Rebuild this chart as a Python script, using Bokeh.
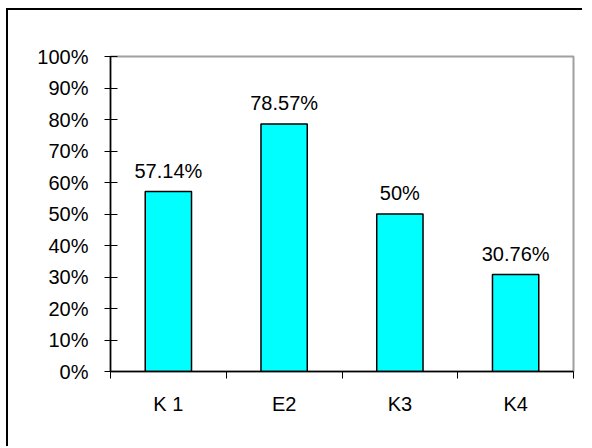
from bokeh.plotting import figure
from bokeh.models import ColumnDataSource, FixedTicker, NumeralTickFormatter, Range1d
from bokeh.core.properties import value
from bokeh.embed import file_html
from bokeh.resources import INLINE

categories = ["K 1", "E2", "K3", "K4"]
shares = [0.5714, 0.7857, 0.50, 0.3076]
share_labels = ["57.14%", "78.57%", "50%", "30.76%"]
y_ticks = [0.0, 0.1, 0.2, 0.3, 0.4, 0.5, 0.6, 0.7, 0.8, 0.9, 1.0]

FONT = "Liberation Sans"
n = len(categories)
centers = [i + 0.5 for i in range(n)]
bounds = [float(i) for i in range(n + 1)]

src = ColumnDataSource(dict(x=centers, top=shares, lab=share_labels))

p = figure(width=576, height=438, output_backend="svg", toolbar_location=None,
           x_range=Range1d(0, n), y_range=Range1d(0, 1),
           min_border_left=102, min_border_right=11, min_border_top=46, min_border_bottom=77)
p.styles = {"border-left": "2px solid black", "border-top": "2px solid black",
            "margin-left": "6px", "margin-top": "8px"}

p.vbar(x="x", top="top", width=0.4, source=src, fill_color="#00FFFF",
       line_color="black", line_width=1.5)
p.text(x="x", y="top", text="lab", source=src, y_offset=-21,
       text_align="center", text_baseline="alphabetic",
       text_font=value(FONT), text_font_size="20px", text_color="black")

p.xgrid.visible = False
p.ygrid.visible = False
p.outline_line_color = "#a0a0a0"
p.outline_line_width = 2

xa = p.xaxis[0]
xa.ticker = FixedTicker(ticks=centers, minor_ticks=bounds)
xa.major_label_overrides = {c: lab for c, lab in zip(centers, categories)}
xa.major_tick_line_color = None
xa.major_tick_out = 0
xa.major_tick_in = 0
xa.minor_tick_line_color = "black"
xa.minor_tick_out = 7
xa.minor_tick_in = 0
xa.major_label_standoff = 14
xa.major_label_text_font = FONT
xa.major_label_text_font_size = "20px"
xa.major_label_text_color = "black"
xa.axis_line_color = "black"
xa.axis_line_width = 1.5

ya = p.yaxis[0]
ya.ticker = FixedTicker(ticks=y_ticks)
ya.formatter = NumeralTickFormatter(format="0%")
ya.major_tick_out = 6
ya.major_tick_in = 7
ya.major_tick_line_color = "black"
ya.minor_tick_line_color = None
ya.major_label_standoff = 16
ya.major_label_text_font = FONT
ya.major_label_text_font_size = "20px"
ya.major_label_text_color = "black"
ya.axis_line_color = "black"
ya.axis_line_width = 1.5

p.background_fill_color = "white"
p.border_fill_color = "white"

open("out.html", "w").write(file_html(p, INLINE))
